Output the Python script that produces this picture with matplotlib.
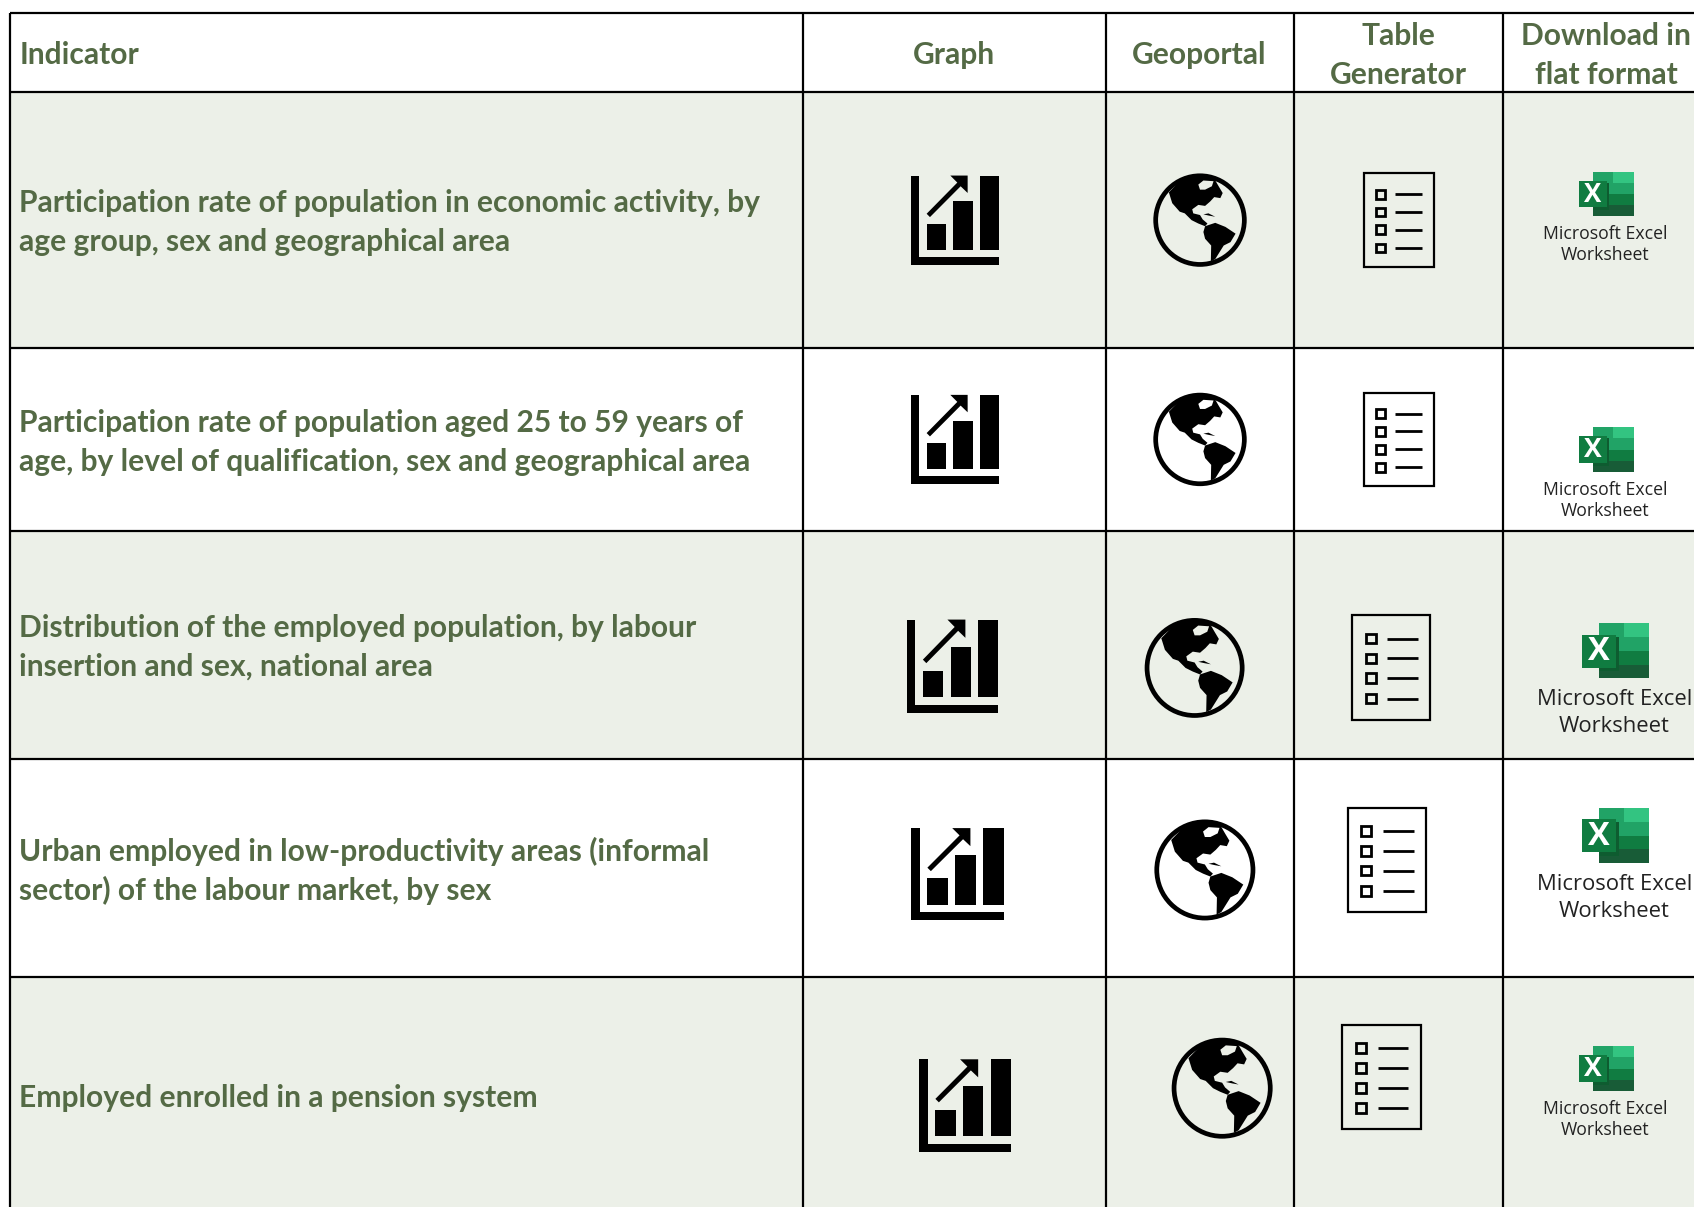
import matplotlib
matplotlib.use('Agg')
import matplotlib.pyplot as plt
from matplotlib.patches import Rectangle, Polygon, Circle

W, H = 1694, 1207
S = 1694 / 1568

# table content
headers = ['Indicator', 'Graph', 'Geoportal', ['Table', 'Generator'], ['Download in', 'flat format']]
indicators = [
    ['Participation rate of population in economic activity, by', 'age group, sex and geographical area'],
    ['Participation rate of population aged 25 to 59 years of', 'age, by level of qualification, sex and geographical area'],
    ['Distribution of the employed population, by labour', 'insertion and sex, national area'],
    ['Urban employed in low-productivity areas (informal', 'sector) of the labour market, by sex'],
    ['Employed enrolled in a pension system'],
]
excel_label = ['Microsoft Excel', 'Worksheet']

# layout
col_x = [9.5, 743, 1024, 1198, 1391]
row_y = [12, 85, 322, 491.5, 702.5, 904]
text_base = [196, 400, 589.7, 797, 1025]

# icon boxes: x0, x1, y0, y1
graph_box = [(843.5, 925, 162.5, 245), (843.5, 925, 365.5, 448), (839.5, 924, 573.5, 660), (843.5, 929, 766.5, 852), (851, 936, 980.5, 1066)]
globe_box = [(1067.5, 1154, 160.5, 247), (1067.5, 1154, 363.5, 450), (1059.5, 1152, 571.5, 665), (1068.5, 1162, 758.5, 852), (1084.5, 1178, 960.5, 1054)]
list_box = [(1262.5, 1327, 160.5, 247), (1262.5, 1327, 363.5, 450), (1251.5, 1324, 569.5, 666), (1247.5, 1320, 747.5, 844), (1242.5, 1315, 948.5, 1045)]
excel_box = [(1461.5, 1512, 159, 200), (1461.5, 1512, 395, 437), (1464.5, 1526, 576.5, 628), (1464.5, 1526, 747.5, 799), (1461.5, 1512, 968, 1010)]
excel_text = [(1486, 221, 241, 12.7), (1486, 458, 478, 12.7), (1494.5, 653, 678, 15.8), (1494.5, 824, 849, 15.8), (1486, 1031, 1051, 12.7)]

GREEN = '#546A45'
SHADE = '#ECF0E8'

# globe outlines, in zoomed pixels of the first icon (centre 150,150 radius 138)
north_america = [(58, 68), (100, 25), (150, 14), (190, 24), (205, 50), (217, 70), (210, 85), (192, 82), (180, 95),
                 (165, 108), (145, 105), (127, 118), (130, 130), (150, 135), (158, 148), (172, 160), (165, 168),
                 (145, 160), (125, 150), (105, 130), (90, 125), (68, 100)]
hudson = [(145, 45), (160, 33), (190, 35), (185, 50), (165, 60), (150, 60)]
south_america = [(165, 168), (195, 158), (225, 170), (255, 190), (240, 215), (220, 225), (195, 265), (182, 272),
                 (183, 225), (165, 205), (160, 185)]
cuba = [(160, 133), (175, 130), (195, 140), (178, 137)]

fig = plt.figure(figsize=(W / 100, H / 100), dpi=100)
ax = fig.add_axes([0, 0, 1, 1])
ax.set_xlim(0, W)
ax.set_ylim(H, 0)
ax.axis('off')


def draw_graph(box):
    x0, x1, y0, y1 = [v * S for v in box]
    sx, sy = (x1 - x0) / 264, (y1 - y0) / 266

    def rect(a, b, c, d):
        ax.add_patch(Rectangle((x0 + a * sx, y0 + c * sy), (b - a) * sx, (d - c) * sy, fc='black', ec='none'))
    rect(0, 24, 0, 266)
    rect(0, 264, 243, 266)
    rect(46, 104, 145, 221)
    rect(126, 184, 77, 221)
    rect(206, 264, 0, 221)
    pts = [(46, 114), (56, 124), (148, 32), (169, 52), (169, 0), (117, 0), (138, 21)]
    ax.add_patch(Polygon([(x0 + a * sx, y0 + b * sy) for a, b in pts], fc='black', ec='none'))


def draw_globe(box):
    x0, x1, y0, y1 = [v * S for v in box]
    cx, cy, r = (x0 + x1) / 2, (y0 + y1) / 2, (x1 - x0) / 2
    ax.add_patch(Circle((cx, cy), r - 2.4, fc='none', ec='black', lw=3.4))

    def conv(pts):
        return [(cx + (a - 150) / 138 * r, cy + (b - 150) / 138 * r) for a, b in pts]
    ax.add_patch(Polygon(conv(north_america), fc='black', ec='none'))
    ax.add_patch(Polygon(conv(south_america), fc='black', ec='none'))
    ax.add_patch(Polygon(conv(cuba), fc='black', ec='none'))
    return conv(hudson)


def draw_list(box):
    x0, x1, y0, y1 = [v * S for v in box]
    w, h = x1 - x0, y1 - y0
    ax.add_patch(Rectangle((x0, y0), w, h, fc='none', ec='black', lw=1.6))
    for fy in [0.223, 0.414, 0.604, 0.799]:
        yy = y0 + fy * h
        bw = 0.125 * w
        ax.add_patch(Rectangle((x0 + 0.175 * w, yy - bw / 2), bw, bw, fc='none', ec='black', lw=2.0))
        ax.plot([x0 + 0.45 * w, x0 + 0.84 * w], [yy, yy], color='black', lw=2.0, solid_capstyle='butt')


def draw_excel(box):
    x0, x1, y0, y1 = [v * S for v in box]
    sx, sy = (x1 - x0) / 162, (y1 - y0) / 133

    def rect(a, b, c, d, col):
        ax.add_patch(Rectangle((x0 + a * sx, y0 + c * sy), (b - a) * sx, (d - c) * sy, fc=col, ec='none'))
    rect(42, 102, 0, 34, '#21A366')
    rect(102, 162, 0, 34, '#33C481')
    rect(42, 162, 34, 67, '#21A366')
    rect(42, 162, 67, 100, '#107C41')
    rect(42, 162, 100, 133, '#185C37')
    rect(42, 90, 34, 115, '#0E5C30')
    rect(0, 83, 28, 107, '#107C41')
    ax.text(x0 + 41 * sx, y0 + 68 * sy, 'X', color='white', fontsize=(y1 - y0) * 0.42, fontweight='bold',
            family='Open Sans', ha='center', va='center')


# shaded rows
for i in [1, 3, 5]:
    bottom = row_y[i + 1] if i + 1 < len(row_y) else H / S
    ax.add_patch(Rectangle((col_x[0] * S, row_y[i] * S), W - col_x[0] * S, (bottom - row_y[i]) * S,
                           fc=SHADE, ec='none', zorder=0))

# grid
for x in col_x:
    ax.plot([x * S, x * S], [row_y[0] * S, H], color='black', lw=1.6, solid_capstyle='butt', zorder=5)
for y in row_y:
    ax.plot([col_x[0] * S, W], [y * S, y * S], color='black', lw=1.6, solid_capstyle='butt', zorder=5)

font = dict(family='Lato', fontweight='bold', color=GREEN, fontsize=21.6)

# header
ax.text(18 * S, 59 * S, headers[0], ha='left', va='baseline', **font)
ax.text(883 * S, 59 * S, headers[1], ha='center', va='baseline', **font)
ax.text(1110 * S, 59 * S, headers[2], ha='center', va='baseline', **font)
for k in range(2):
    ax.text(1294 * S, (41.6 + 36 * k) * S, headers[3][k], ha='center', va='baseline', **font)
    ax.text(1486.5 * S, (41.6 + 36 * k) * S, headers[4][k], ha='center', va='baseline', **font)

# rows
for i, lines in enumerate(indicators):
    for k, line in enumerate(lines):
        ax.text(18 * S, (text_base[i] + 36 * k) * S, line, ha='left', va='baseline', **font)
    draw_graph(graph_box[i])
    land = draw_globe(globe_box[i])
    ax.add_patch(Polygon(land, fc=SHADE if i % 2 == 0 else 'white', ec='none'))
    draw_list(list_box[i])
    draw_excel(excel_box[i])
    tx, y1, y2, fs = excel_text[i]
    ax.text(tx * S, y1 * S, excel_label[0], ha='center', va='baseline', fontsize=fs, family='Open Sans', color='#222222')
    ax.text(tx * S, y2 * S, excel_label[1], ha='center', va='baseline', fontsize=fs, family='Open Sans', color='#222222')

fig.savefig('out.png', dpi=100)
